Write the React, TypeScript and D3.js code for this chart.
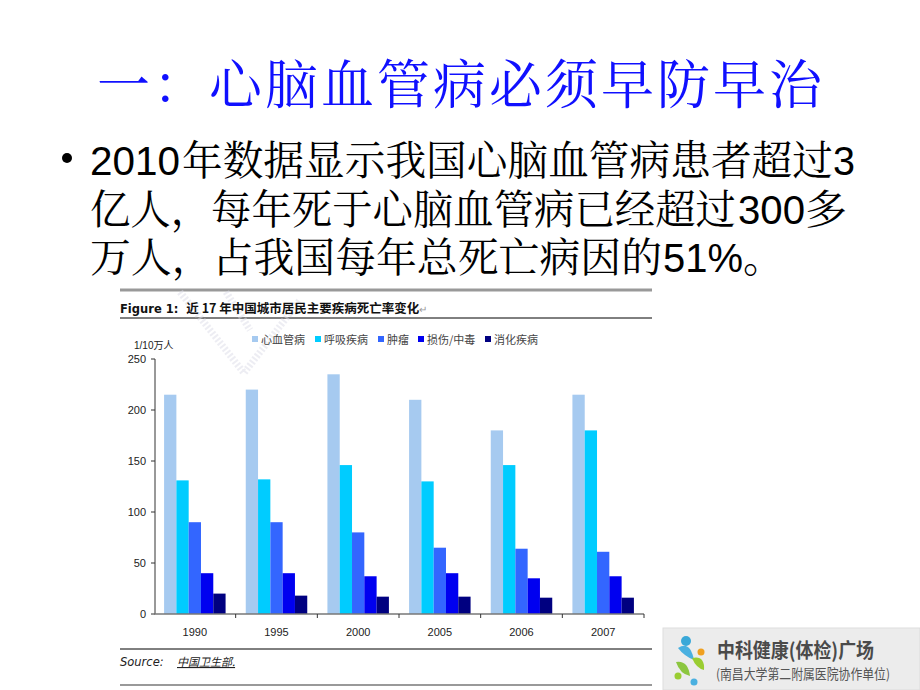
import React from "react";
import * as d3 from "d3";

const years = ["1990", "1995", "2000", "2005", "2006", "2007"];
const seriesNames = ["心血管病", "呼吸疾病", "肿瘤", "损伤/中毒", "消化疾病"];
const cardio = [215, 220, 235, 210, 180, 215];
const respiratory = [131, 132, 146, 130, 146, 180];
const tumor = [90, 90, 80, 65, 64, 61];
const injury = [40, 40, 37, 40, 35, 37];
const digestive = [20, 18, 17, 17, 16, 16];
const yTicks = [0, 50, 100, 150, 200, 250];
const seriesColors = ["#A6CAF0", "#00CCFF", "#3366FF", "#0000F0", "#000080"];

const seriesValues = [cardio, respiratory, tumor, injury, digestive];

const W = 920;
const H = 690;
const cjk = "'Noto Serif CJK SC', 'Noto Sans CJK SC', 'Noto Sans', sans-serif";
const cjkSans = "'Noto Sans CJK SC', 'Noto Sans', sans-serif";
const arial = "'Liberation Sans', Arial, sans-serif";

type Seg = { t: string; x: number; w: number; latin?: boolean };
const bulletLines: { y: number; segs: Seg[] }[] = [
  {
    y: 175,
    segs: [
      { t: "2010", x: 90, w: 90, latin: true },
      { t: "年数据显示我国心脑血管病患者超过", x: 182, w: 651 },
      { t: "3", x: 833, w: 22, latin: true },
    ],
  },
  {
    y: 224,
    segs: [
      { t: "亿人，每年死于心脑血管病已经超过", x: 90, w: 646 },
      { t: "300", x: 738, w: 67, latin: true },
      { t: "多", x: 805, w: 42 },
    ],
  },
  {
    y: 272,
    segs: [
      { t: "万人，占我国每年总死亡病因的", x: 90, w: 572 },
      { t: "51%", x: 663, w: 80, latin: true },
      { t: "。", x: 743, w: 41 },
    ],
  },
];

export default function App() {
  const x0 = d3.scaleBand<string>().domain(years).range([154, 644]).paddingInner(0).paddingOuter(0);
  const x1 = d3
    .scaleBand<number>()
    .domain(d3.range(seriesNames.length))
    .range([0, x0.bandwidth()])
    .paddingInner(0)
    .paddingOuter(0.82);
  const y = d3.scaleLinear().domain([0, 250]).range([614, 359]);

  const legendX = [255, 318, 381, 421, 488];

  return (
    <svg
      width={W}
      height={H}
      viewBox={`0 0 ${W} ${H}`}
      style={{ position: "absolute", left: 0, top: 0, background: "#fff" }}
    >
      <rect x={0} y={0} width={W} height={H} fill="#fff" />
      {/* Title */}
      <text
        x={97}
        y={104}
        fontFamily={cjk}
        fontSize={53}
        fill="#1010FF"
        textLength={725}
        lengthAdjust="spacing"
      >
        一：心脑血管病必须早防早治
      </text>
      {/* Bullet */}
      <circle cx={67} cy={158} r={5} fill="#000" />
      {bulletLines.map((ln, li) => (
        <g key={li}>
          {ln.segs.map((s, si) => (
            <text
              key={si}
              x={s.x}
              y={ln.y}
              fontFamily={s.latin ? arial : cjk}
              fontSize={41}
              fill="#000"
              textLength={s.w}
              lengthAdjust="spacingAndGlyphs"
            >
              {s.t}
            </text>
          ))}
        </g>
      ))}

      {/* Chart frame lines */}
      <line x1={120} x2={652} y1={290} y2={290} stroke="#999" strokeWidth={3} />
      <line x1={120} x2={652} y1={318} y2={318} stroke="#000" strokeWidth={1} />
      <line x1={120} x2={652} y1={649} y2={649} stroke="#000" strokeWidth={1} />
      <line x1={120} x2={652} y1={685} y2={685} stroke="#999" strokeWidth={2} />

      {/* watermark */}
      <g stroke="#dcdce8" strokeWidth={7} fill="none" opacity={0.5} strokeDasharray="2 2">
        <path d="M180,292 L244,373 L300,300" />
        <path d="M226,292 L250,330" />
      </g>

      {/* Figure title */}
      <text x={120} y={313} fontSize={12.5} fill="#111" fontWeight="bold">
        <tspan fontFamily="'DejaVu Sans', sans-serif" fontSize={11.5}>Figure 1:</tspan>
        <tspan fontFamily={cjkSans} dx={8}>近 17 年中国城市居民主要疾病死亡率变化</tspan>
        <tspan fontFamily={arial} fill="#999" fontWeight="normal" fontSize={10}>↵</tspan>
      </text>

      {/* Legend */}
      {seriesNames.map((n, i) => (
        <g key={n}>
          <rect x={legendX[i] - 3} y={336} width={6} height={6} fill={seriesColors[i]} />
          <text x={legendX[i] + 6} y={343.5} fontFamily={cjkSans} fontSize={11} fill="#444">
            {n}
          </text>
        </g>
      ))}

      {/* y unit */}
      <text x={134} y={349} fontFamily={arial} fontSize={10} fill="#222">
        1/10
        <tspan fontFamily={cjkSans}>万人</tspan>
      </text>

      {/* Bars */}
      {years.map((yr, yi) => (
        <g key={yr} transform={`translate(${x0(yr)},0)`}>
          {seriesValues.map((vals, si) => (
            <rect
              key={si}
              x={x1(si)}
              y={y(vals[yi])}
              width={x1.bandwidth()}
              height={y(0) - y(vals[yi])}
              fill={seriesColors[si]}
            />
          ))}
        </g>
      ))}

      {/* Y axis */}
      <line x1={155} x2={155} y1={359} y2={614} stroke="#333" strokeWidth={1} />
      {yTicks.map((t) => (
        <g key={t}>
          <line x1={151} x2={155} y1={y(t)} y2={y(t)} stroke="#333" />
          <text x={146} y={y(t) + 4} textAnchor="end" fontFamily={arial} fontSize={11} fill="#222">
            {t}
          </text>
        </g>
      ))}

      {/* X axis */}
      <line x1={154} x2={644} y1={614} y2={614} stroke="#777" strokeWidth={1.5} />
      {years.map((yr) => (
        <g key={yr}>
          <line x1={(x0(yr) as number) + x0.bandwidth()} x2={(x0(yr) as number) + x0.bandwidth()} y1={614} y2={618} stroke="#333" />
          <text
            x={(x0(yr) as number) + x0.bandwidth() / 2}
            y={636}
            textAnchor="middle"
            fontFamily={arial}
            fontSize={11}
            fill="#222"
          >
            {yr}
          </text>
        </g>
      ))}

      {/* Source */}
      <text x={120} y={666} fontFamily="'DejaVu Sans', sans-serif" fontStyle="italic" fontSize={11.5} fill="#222">
        Source:
      </text>
      <text x={177} y={666} fontFamily={cjkSans} fontStyle="italic" fontSize={11} fill="#222" textDecoration="underline">
        中国卫生部.
      </text>

      {/* Logo */}
      <rect x={663} y={628} width={257} height={62} fill="#ececec" stroke="#ddd" />
      <g>
        <circle cx={686} cy={641} r={5} fill="#3aa8d8" />
        <path d="M678,648 Q690,640 694,660 Q684,656 678,648 Z" fill="#4ab0e0" />
        <circle cx={701} cy={652} r={3.5} fill="#f0a020" />
        <path d="M692,658 Q705,655 704,670 Q696,668 692,658 Z" fill="#9acd32" />
        <path d="M676,662 Q688,660 690,676 Q680,674 676,662 Z" fill="#8cc63f" />
        <circle cx={678} cy={676} r={3.5} fill="#9acd32" />
        <circle cx={694} cy={682} r={3.5} fill="#4ab0e0" />
      </g>
      <text x={717} y={658} fontFamily={cjkSans} fontWeight="bold" fontSize={20} fill="#4a4a4a" textLength={157} lengthAdjust="spacingAndGlyphs">
        中科健康(体检)广场
      </text>
      <text x={716} y={679} fontFamily={cjkSans} fontSize={13.5} fill="#555" textLength={174} lengthAdjust="spacingAndGlyphs">
        (南昌大学第二附属医院协作单位)
      </text>
    </svg>
  );
}
